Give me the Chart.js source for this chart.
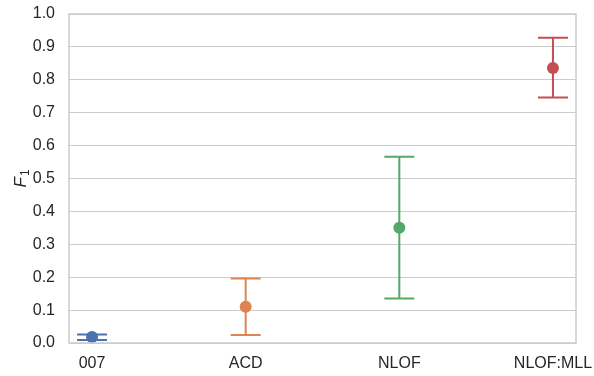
<!DOCTYPE html>
<html>
<head>
<meta charset="utf-8">
<script src="https://cdn.jsdelivr.net/npm/chart.js@4/dist/chart.umd.min.js"></script>
<style>
  html, body { margin: 0; padding: 0; background: #fff; }
  #wrap { width: 594px; height: 376px; }
</style>
</head>
<body>
<div id="wrap"><canvas id="chart" width="594" height="376"></canvas></div>
<script>
// values
const categories = ["007", "ACD", "NLOF", "NLOF:MLL"];
const means = [0.018, 0.110, 0.350, 0.836];
const lowErr = [0.009, 0.024, 0.135, 0.746];
const highErr = [0.026, 0.196, 0.566, 0.928];
const colors = ["#4c72b0", "#dd8452", "#55a868", "#c44e52"];
const yTicks = [0, 0.1, 0.2, 0.3, 0.4, 0.5, 0.6, 0.7, 0.8, 0.9, 1.0];

const FONT = "'Liberation Sans', Arial, sans-serif";

// error bars + frame + y label
const extras = {
    id: "extras",
    afterDatasetsDraw(chart) {
        const ctx = chart.ctx;
        const xs = chart.scales.x, ys = chart.scales.y;
        ctx.save();
        ctx.lineWidth = 2;
        for (let i = 0; i < categories.length; i++) {
            const x = xs.getPixelForValue(i);
            const y1 = ys.getPixelForValue(lowErr[i]);
            const y2 = ys.getPixelForValue(highErr[i]);
            ctx.strokeStyle = colors[i];
            ctx.beginPath();
            ctx.moveTo(x, y1); ctx.lineTo(x, y2);
            ctx.moveTo(x - 15, y1); ctx.lineTo(x + 15, y1);
            ctx.moveTo(x - 15, y2); ctx.lineTo(x + 15, y2);
            ctx.stroke();
        }
        ctx.restore();
    },
    afterDraw(chart) {
        const ctx = chart.ctx;
        const a = chart.chartArea;
        ctx.save();
        ctx.strokeStyle = "#cccccc";
        ctx.lineWidth = 1.5;
        ctx.strokeRect(a.left, a.top, a.right - a.left, a.bottom - a.top);
        // y axis label F_1
        ctx.translate(21, (a.top + a.bottom) / 2);
        ctx.rotate(-Math.PI / 2);
        ctx.fillStyle = "#262626";
        ctx.textBaseline = "middle";
        ctx.font = "italic 17px " + FONT;
        const w = ctx.measureText("F").width;
        ctx.textAlign = "left";
        ctx.fillText("F", -9, 0);
        ctx.font = "12px " + FONT;
        ctx.fillText("1", -9 + w + 1, 5);
        ctx.restore();
    }
};

new Chart(document.getElementById("chart"), {
    type: "scatter",
    data: {
        datasets: [{
            data: means.map((v, i) => ({x: i, y: v})),
            pointRadius: 6,
            pointHoverRadius: 6,
            pointBackgroundColor: colors,
            pointBorderColor: colors,
            pointBorderWidth: 0
        }]
    },
    options: {
        responsive: false,
        animation: false,
        layout: {padding: {top: 14, right: 18, left: 0, bottom: 0}},
        plugins: {legend: {display: false}, tooltip: {enabled: false}},
        scales: {
            x: {
                type: "linear",
                min: -0.15,
                max: 3.15,
                afterBuildTicks(scale) {
                    scale.ticks = categories.map((c, i) => ({value: i}));
                },
                afterFit(scale) {
                    scale.height = 33;
                    scale.paddingLeft = 0;
                    scale.paddingRight = 0;
                },
                grid: {display: false, drawTicks: false},
                border: {display: false},
                ticks: {
                    padding: 11,
                    maxRotation: 0,
                    color: "#262626",
                    font: {family: FONT, size: 16},
                    callback: (v) => categories[v]
                }
            },
            y: {
                min: 0,
                max: 1,
                afterBuildTicks(scale) {
                    scale.ticks = yTicks.map(v => ({value: v}));
                },
                afterFit(scale) {
                    scale.width = 69;
                    scale.paddingTop = 0;
                    scale.paddingBottom = 0;
                },
                grid: {color: "#cccccc", lineWidth: 1, drawTicks: false},
                border: {display: false},
                ticks: {
                    padding: 14,
                    color: "#262626",
                    font: {family: FONT, size: 16},
                    callback: (v) => v.toFixed(1)
                }
            }
        }
    },
    plugins: [extras]
});
</script>
</body>
</html>
